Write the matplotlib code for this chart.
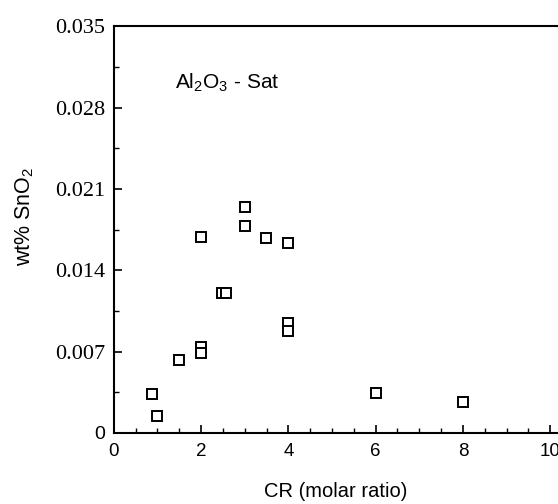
import matplotlib
matplotlib.use("Agg")
import matplotlib.pyplot as plt
from matplotlib.ticker import MultipleLocator, FixedLocator

cr = [0.87, 0.98, 1.49, 2.0, 2.0, 2.0, 2.47, 2.58, 3.0, 3.0, 3.49, 4.0, 4.0, 4.0, 6.0, 8.0]
sno2 = [0.00333, 0.00146, 0.00628, 0.00742, 0.00690, 0.01685, 0.01206, 0.01206,
        0.01943, 0.01780, 0.01677, 0.01634, 0.00948, 0.00880, 0.00341, 0.00269]
yticks = [0, 0.007, 0.014, 0.021, 0.028, 0.035]
ytick_labels = ["0", "0.007", "0.014", "0.021", "0.028", "0.035"]
xticks = [0, 2, 4, 6, 8, 10]
xtick_labels = ["0", "2", "4", "6", "8", "10"]

plt.rcParams["mathtext.fontset"] = "custom"
plt.rcParams["mathtext.rm"] = "Liberation Sans"
plt.rcParams["mathtext.it"] = "Liberation Sans"

fig = plt.figure(figsize=(5.58, 5.04), dpi=100)
ax = fig.add_axes([0.204, 0.141, 0.796, 0.807])
ax.plot(cr, sno2, linestyle="none", marker="s", markersize=7,
        markerfacecolor="white", markeredgecolor="black", markeredgewidth=1.4)

ax.set_xlim(0, 10.18)
ax.set_ylim(0, 0.035)
ax.spines["right"].set_visible(False)
for s in ["left", "bottom", "top"]:
    ax.spines[s].set_linewidth(1.5)

ax.xaxis.set_major_locator(FixedLocator(xticks))
ax.xaxis.set_minor_locator(MultipleLocator(0.5))
ax.yaxis.set_major_locator(FixedLocator(yticks))
ax.yaxis.set_minor_locator(MultipleLocator(0.0035))
ax.set_xticklabels(xtick_labels, fontfamily="Liberation Sans", fontsize=13.5)
ax.set_yticklabels(ytick_labels, fontfamily="Liberation Serif", fontsize=16)
ax.get_yticklabels()[0].set_fontfamily("Liberation Sans")
ax.get_yticklabels()[0].set_fontsize(14)
ax.tick_params(axis="both", which="major", direction="in", length=6, width=1.2)
ax.tick_params(axis="both", which="minor", direction="in", length=3.5, width=1.0)
ax.tick_params(axis="x", which="major", pad=7)
ax.tick_params(axis="y", which="major", pad=6)

ax.set_xlabel("CR (molar ratio)", fontfamily="Liberation Sans", fontsize=14.5, labelpad=16)
ax.set_ylabel("wt% SnO$_2$", fontfamily="Liberation Sans", fontsize=15.5)
ax.yaxis.set_label_coords(-0.175, 0.533)
ax.text(1.4, 0.0301, "Al$_2$O$_3$ - Sat", fontfamily="Liberation Sans", fontsize=15,
        va="center", ha="left")

fig.savefig("out.png", dpi=100)
